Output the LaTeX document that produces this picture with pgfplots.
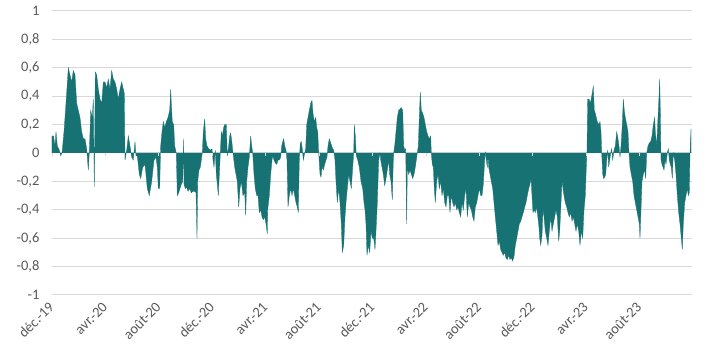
\documentclass[border=0pt]{standalone}
\usepackage{fontspec}
\setmainfont{Carlito}
\usepackage{graphicx}
\usepackage{pgfplots}
\pgfplotsset{compat=1.18}
\definecolor{fillc}{RGB}{23,115,115}
\definecolor{lab}{RGB}{89,89,89}
\definecolor{gridc}{RGB}{217,217,217}
\newcommand{\rl}[1]{\rotatebox{45}{#1}}
\begin{document}
\begin{tikzpicture}
\useasboundingbox (-52pt,-66pt) rectangle (671pt,295pt);
\begin{axis}[
  at={(0pt,0pt)}, anchor=south west,
  scale only axis, width=640pt, height=284pt,
  xmin=52, xmax=692, ymin=-1, ymax=1,
  axis line style={draw=none},
  major tick length=0pt,
  ytick={-1,-0.8,-0.6,-0.4,-0.2,0,0.2,0.4,0.6,0.8,1},
  ymajorgrids, grid style={gridc, line width=1pt},
  xtick={52,105.42,158.83,212.25,265.67,319.08,372.5,425.92,479.33,532.75,586.17,639.58},
  xticklabels={\rl{déc.-19},\rl{avr.-20},\rl{août-20},\rl{déc.-20},\rl{avr.-21},\rl{août-21},\rl{déc.-21},\rl{avr.-22},\rl{août-22},\rl{déc.-22},\rl{avr.-23},\rl{août-23}},
  x tick label style={anchor=north east, inner sep=0pt, yshift=-6pt, xshift=3pt, font=\fontsize{14.5}{16}\selectfont, text=lab},
  y tick label style={font=\fontsize{14.5}{16}\selectfont, text=lab, xshift=-9pt,
    /pgf/number format/.cd, use comma, fixed, precision=1, assume math mode=true},
]
\addplot[fill=fillc, draw=fillc, line width=0.3pt] coordinates {
(52,0)(52,0.12)(53.5,0.12)(55,0.05)(56,0.15)(57.3,0.05)(59.3,0.02)(60.7,-0.02)(62,0)
(64,0.15)(66,0.35)(68.3,0.6)(70,0.55)(71.7,0.5)(73.3,0.58)(75,0.55)(76.7,0.35)(78.3,0.3)
(80,0.25)(81.7,0.15)(83.3,0.1)(85,0.1)(86.7,0.03)(88.3,-0.12)(89.3,0)(90.7,0.3)(92.3,0.25)
(93.3,0.38)(94.3,-0.24)(95.3,0.57)(96.7,0.55)(98.3,0.45)(100,0.38)(101.7,0.35)(103.3,0.5)
(105,0.5)(106.7,0.46)(108.3,0.52)(110,0.45)(111.7,0.58)(113.3,0.52)(115,0.5)(116.7,0.45)
(118.3,0.38)(120,0.45)(121.7,0.5)(123.3,0.45)(124.3,0.42)(125,-0.05)(126.7,0.02)(128.3,0.12)
(130,0.05)(131.7,-0.03)(133.3,-0.05)(135,0.08)(136,-0.02)(137.3,-0.02)(139.3,-0.15)
(140.7,-0.18)(142.7,-0.1)(145,-0.08)(147.3,-0.25)(149.3,-0.3)(151.7,-0.2)(154,-0.05)
(156,-0.03)(157.3,-0.1)(158.3,-0.25)(159.7,-0.25)(160.3,-0.05)(160.7,0.05)(162,0.15)
(163.3,0.22)(164.7,0.18)(166.3,0.22)(168,0.25)(169.7,0.3)(170.7,0.45)(171.3,0.35)(172.3,0.22)
(173.7,0.2)(174.7,0.05)(176.3,0)(177.3,-0.3)(178.7,-0.28)(180,-0.25)(181.3,-0.22)(182.7,-0.2)
(183.7,0.1)(184,-0.22)(185.3,-0.25)(186.7,-0.24)(188,-0.27)(189.7,-0.25)(191.3,-0.28)
(193,-0.27)(194.7,-0.27)(196,-0.28)(197,-0.6)(197.7,-0.2)(199,-0.12)(200.3,-0.1)(201.3,-0.05)
(202.3,0)(203.3,0.15)(204.7,0.24)(205.7,0.1)(207,0.05)(208.7,0.03)(210.7,0.02)(212,0.03)
(213,-0.05)(214,-0.1)(215.3,0.02)(216.3,-0.15)(217.3,-0.22)(218.3,-0.3)(219.7,-0.1)
(221.3,0.15)(222.3,0.12)(223.7,0.18)(224.7,0.2)(226.3,0.2)(227.3,-0.02)(228.7,0.05)
(229.7,0.12)(230.7,0.14)(232,0.07)(233,0)(234.7,-0.1)(236,-0.15)(237.3,-0.2)(238.7,-0.38)
(240,-0.25)(241.3,-0.2)(243,-0.3)(244.7,-0.28)(245.7,-0.44)(246.7,-0.2)(248,-0.1)(249.3,-0.03)
(250.7,0.12)(251.7,0.05)(252.7,0)(254,-0.15)(255.3,-0.25)(256.7,-0.3)(258,-0.3)(259.3,-0.42)
(260.7,-0.4)(262,-0.45)(263.3,-0.47)(264.7,-0.45)(266,-0.5)(267.3,-0.57)(267.7,-0.4)
(269.3,-0.3)(270.7,-0.15)(272,-0.05)(272.7,-0.02)(274,-0.05)(275.3,-0.07)(276.7,-0.08)
(278,-0.05)(279.3,-0.05)(280.7,-0.03)(281.7,0.05)(282.7,0.08)(283.7,0.1)(284.7,0.05)(286,0.02)
(287,-0.05)(288,-0.38)(289.3,-0.3)(290.7,-0.25)(292,-0.3)(293.3,-0.25)(294.7,-0.3)(296,-0.35)
(297.3,-0.38)(298.3,-0.42)(299.3,-0.05)(300.3,0.07)(301.3,0.08)(302.3,0.03)(303.3,-0.05)
(304.7,0)(305.7,0.03)(306.7,0.2)(308,0.25)(309.3,0.3)(310.7,0.35)(312,0.37)(313,0.28)
(314.3,0.22)(315.7,0.25)(316.7,0.18)(317.7,0.15)(318.7,0)(320,-0.15)(321,-0.17)(322,-0.1)
(323.3,-0.12)(324.7,-0.08)(326,-0.05)(327,-0.03)(328,0.05)(329.3,0.1)(330.3,0.08)(331.7,0.05)
(332.7,0.03)(333.7,0.02)(335,-0.05)(336,-0.2)(337.3,-0.35)(338.7,-0.25)(340,-0.35)(341.3,-0.5)
(342.3,-0.7)(343.7,-0.65)(345,-0.45)(346,-0.35)(347.3,-0.25)(348.7,-0.15)(350,-0.2)
(351.3,-0.25)(352.7,-0.1)(353.7,0)(354.3,0.2)(355.3,0.12)(356.3,-0.02)(357.7,-0.05)
(359.3,-0.1)(361,-0.2)(362.7,-0.25)(364,-0.35)(365,-0.4)(366,-0.5)(367,-0.72)(368.3,-0.65)
(369.7,-0.7)(371,-0.55)(372.3,-0.6)(373.7,-0.6)(375,-0.68)(376,-0.55)(377.3,-0.35)
(378.7,-0.05)(380,0)(380.7,-0.05)(382,-0.1)(383.3,-0.15)(384.7,-0.23)(386,-0.18)(387.3,-0.12)
(388.7,-0.05)(389.7,-0.15)(391,-0.2)(392.3,-0.33)(393.3,-0.05)(394,0.02)(394.7,0.05)(396,0.15)
(397.3,0.25)(398.7,0.3)(400,0.31)(401.3,0.32)(402.7,0.3)(403.7,0.05)(404.7,0.02)(405.7,0.03)
(406.7,-0.5)(407.3,-0.1)(408.7,-0.15)(410,-0.12)(411.3,-0.15)(412.7,-0.18)(414,-0.15)
(415.3,-0.1)(416.3,-0.05)(417.3,0)(418.3,0.05)(419.3,0.25)(420.3,0.43)(421.3,0.3)(422.7,0.28)
(424,0.25)(425.3,0.2)(426.7,0.15)(428,0.12)(429.3,0.1)(430.7,0.12)(431.3,0)(432.3,-0.08)
(433.3,-0.1)(434.3,-0.25)(435.3,-0.35)(436.7,-0.2)(438,-0.15)(439.3,-0.25)(440.7,-0.2)
(442,-0.3)(443.3,-0.25)(444.7,-0.35)(446,-0.38)(447.3,-0.3)(448.7,-0.3)(450,-0.42)(451.3,-0.3)
(452.7,-0.35)(454,-0.38)(455.3,-0.35)(456.7,-0.4)(458,-0.38)(459.3,-0.42)(460.7,-0.45)
(462,-0.35)(463.3,-0.4)(464.7,-0.3)(466,-0.25)(467.3,-0.45)(468.7,-0.35)(470,-0.38)
(471.3,-0.4)(472.7,-0.45)(474,-0.48)(475.3,-0.38)(476.7,-0.35)(478,-0.3)(479.3,-0.25)
(480.7,-0.3)(482,-0.3)(483.3,-0.22)(484.7,-0.05)(485.3,0.01)(486.3,-0.05)(487.3,-0.1)
(488,-0.02)(488.7,-0.1)(490,-0.15)(491.3,-0.2)(492.7,-0.25)(494,-0.35)(495.3,-0.45)
(496.7,-0.55)(498,-0.65)(499.3,-0.62)(500.7,-0.68)(502,-0.7)(503.3,-0.72)(504.7,-0.7)
(506,-0.74)(507.3,-0.75)(508.7,-0.72)(510,-0.75)(511.3,-0.74)(512.7,-0.76)(514,-0.73)
(515.3,-0.65)(516.7,-0.6)(518,-0.55)(519.3,-0.5)(520.7,-0.48)(522,-0.45)(523.3,-0.42)
(524.7,-0.38)(526,-0.35)(527.3,-0.3)(528.7,-0.25)(530,-0.22)(531,-0.18)(532,-0.3)(533,-0.42)
(534,-0.4)(535.3,-0.42)(536.3,-0.38)(537.3,-0.42)(538.7,-0.5)(539.7,-0.6)(540.7,-0.65)
(542,-0.58)(543,-0.4)(544,-0.45)(545.3,-0.55)(546.7,-0.6)(548,-0.65)(549.3,-0.55)(550.7,-0.45)
(552,-0.55)(553.3,-0.5)(554.7,-0.45)(556,-0.4)(557.3,-0.45)(558.7,-0.62)(559.7,-0.55)
(560.7,-0.4)(562,-0.2)(563,-0.25)(564,-0.3)(565.3,-0.35)(566.7,-0.38)(568,-0.42)(569.3,-0.45)
(570.7,-0.42)(572,-0.48)(573.3,-0.45)(574.7,-0.5)(576,-0.55)(577.3,-0.5)(578.7,-0.55)
(580,-0.65)(581.3,-0.55)(582.7,-0.6)(584,-0.4)(585.3,-0.3)(586.3,-0.1)(587,0.02)(587.7,0.38)
(589,0.38)(590.3,0.35)(591.7,0.4)(593.3,0.47)(594.3,0.3)(595.3,0.28)(596.3,0.25)(597.3,0.22)
(598.7,0.2)(600,0.22)(601,0.15)(601.7,0)(602.7,-0.15)(603.7,-0.18)(604.7,-0.17)(605.7,-0.15)
(606.7,-0.05)(607.7,0.02)(608.7,-0.1)(609.7,-0.05)(610.7,0)(611.7,0.03)(612.7,-0.05)(614,0.02)
(615.3,0.05)(616.7,0.15)(618,0.1)(619,0.05)(620,-0.03)(621,0.05)(622.3,0.2)(623.3,0.38)
(624.3,0.3)(625.3,0.25)(626.7,0.2)(628,0.15)(629,0)(630,-0.1)(631.3,-0.15)(632.7,-0.2)
(634,-0.3)(635.3,-0.35)(636.7,-0.4)(638,-0.45)(639.3,-0.5)(640,-0.6)(641,-0.4)(642,-0.2)
(643.3,-0.15)(644.7,-0.12)(645.7,-0.18)(646.7,0)(648,0.05)(649.3,0.07)(650.7,0.08)(652,0.12)
(653.3,0.2)(654.7,0.25)(655.3,0.15)(656.7,0.05)(658,0.25)(659,0.4)(659.7,0.52)(660.3,0.3)
(661,-0.05)(662,-0.08)(663,-0.1)(664,-0.12)(665,-0.05)(666,-0.08)(667.3,0)(668.3,0.03)
(669.3,-0.05)(670.3,-0.08)(671.3,-0.1)(672.3,-0.18)(673.3,0)(674.7,-0.05)(676,-0.15)
(677.3,-0.3)(678.7,-0.42)(680,-0.5)(681.3,-0.6)(682.3,-0.68)(683.3,-0.5)(684.7,-0.35)
(686,-0.3)(687.3,-0.25)(688.3,-0.3)(689.3,-0.28)(690,0)(691,0.17)(691,0)
};
\pgfplotsinvokeforeach{52,105.42,158.83,212.25,265.67,319.08,372.5,425.92,479.33,532.75,586.17,639.58}{
  \draw[gridc, line width=0.8pt] (axis cs:#1,0) -- ([yshift=-3pt]axis cs:#1,0);
}
\end{axis}
\end{tikzpicture}
\end{document}
